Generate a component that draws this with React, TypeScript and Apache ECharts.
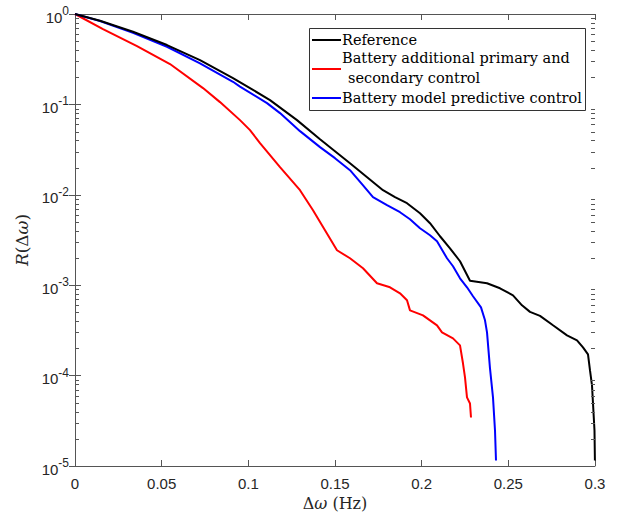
import React, { useEffect, useRef } from "react";
import * as echarts from "echarts";

const seriesNames = [
  "Reference",
  "Battery additional primary and secondary control",
  "Battery model predictive control",
];
const seriesColors = ["#000000", "#ff0000", "#0000ff"];

const xTickValues = [0, 0.05, 0.1, 0.15, 0.2, 0.25, 0.3];

const xRef = [0, 0.01442, 0.03346, 0.05308, 0.07212, 0.09115, 0.10096, 0.1125, 0.12808, 0.14135, 0.15865, 0.17769, 0.18462, 0.19154, 0.19904, 0.20481, 0.21058, 0.21635, 0.22212, 0.22788, 0.23769, 0.24519, 0.25269, 0.25788, 0.2625, 0.26827, 0.27577, 0.28385, 0.28962, 0.29308, 0.29596, 0.29712, 0.29827, 0.29885, 0.29971, 0.29995];
const yRef = [1, 0.843, 0.637, 0.4535, 0.3094, 0.1956, 0.1515, 0.1116, 0.067, 0.04126, 0.02238, 0.01124, 0.0094, 0.00807, 0.00625, 0.00485, 0.00348, 0.00256, 0.00184, 0.001119, 0.00105, 0.000924, 0.000773, 0.000599, 0.000507, 0.000458, 0.00036, 0.000279, 0.000245, 0.000205, 0.000172, 0.000114, 7.79e-5, 4.92e-5, 2.47e-5, 1.15e-5];

const xPsc = [0, 0.01615, 0.03577, 0.05481, 0.07385, 0.08365, 0.09519, 0.10096, 0.10673, 0.11827, 0.12981, 0.13731, 0.14423, 0.15115, 0.15865, 0.16615, 0.17423, 0.18173, 0.1875, 0.19154, 0.19327, 0.20077, 0.20885, 0.21173, 0.21808, 0.22212, 0.22385, 0.225, 0.22615, 0.22788, 0.22846];
const yPsc = [1, 0.682, 0.442, 0.2795, 0.1515, 0.106, 0.067, 0.0519, 0.03728, 0.0202, 0.01124, 0.00675, 0.004055, 0.002435, 0.001986, 0.001539, 0.00105, 0.000948, 0.000813, 0.000681, 0.000527, 0.000464, 0.00036, 0.000301, 0.000258, 0.000216, 0.000136, 9.55e-5, 5.74e-5, 4.92e-5, 3.44e-5];

const xMpc = [0, 0.01442, 0.03346, 0.05308, 0.07212, 0.09115, 0.09519, 0.11077, 0.11827, 0.12981, 0.14135, 0.15, 0.15865, 0.16558, 0.17192, 0.18, 0.1875, 0.19327, 0.19904, 0.20481, 0.20885, 0.21462, 0.21808, 0.22212, 0.22615, 0.22962, 0.23423, 0.23654, 0.2377, 0.23942, 0.24115, 0.24231, 0.24288];
const yMpc = [1, 0.8365, 0.6208, 0.4343, 0.2845, 0.1779, 0.1574, 0.1034, 0.0801, 0.0506, 0.03366, 0.02542, 0.01873, 0.0131, 0.0094, 0.00767, 0.00642, 0.00537, 0.00427, 0.00357, 0.00306, 0.001986, 0.00162, 0.001193, 0.000948, 0.000754, 0.000569, 0.000409, 0.000301, 0.00012, 5.74e-5, 2.47e-5, 1.15e-5];

const zip = (xs: number[], ys: number[]) => xs.map((x, i) => [x, ys[i]]);

const AXIS_COLOR = "#555555";
const LABEL_COLOR = "#262626";
const SERIF = "'DejaVu Serif', 'Liberation Serif', serif";
const SANS = "'Liberation Sans', Arial, Helvetica, sans-serif";
const LEGEND_FONT = `14.5px ${SERIF}`;

export default function App() {
  const ref = useRef<HTMLDivElement>(null);

  useEffect(() => {
    if (!ref.current) return;
    const chart = echarts.init(ref.current, undefined, { renderer: "svg" });

    const minorTicks: number[][] = [];
    for (let e = -5; e <= -1; e++) {
      for (let m = 2; m <= 9; m++) minorTicks.push([0, m * Math.pow(10, e)]);
    }

    const gridL = 75, gridR = 26, gridT = 14, gridB = 46;

    const commonY = {
      type: "log" as const,
      logBase: 10,
      min: 1e-5,
      max: 1,
      splitLine: { show: false },
      axisLine: { show: true, lineStyle: { color: AXIS_COLOR, width: 1 } },
      axisTick: { show: true, inside: true, length: 6, lineStyle: { color: AXIS_COLOR } },
    };
    const commonX = {
      type: "value" as const,
      min: 0,
      max: 0.3,
      interval: 0.05,
      splitLine: { show: false },
      axisLine: { show: true, onZero: false, lineStyle: { color: AXIS_COLOR, width: 1 } },
      axisTick: { show: true, inside: true, length: 6, lineStyle: { color: AXIS_COLOR } },
    };

    const legendX = 309, legendY = 28, legendW = 276, legendH = 82;
    const lineX1 = 312, lineX2 = 341, textX = 342;

    const xNameRich = {
      n: { fontFamily: SERIF, fontSize: 16, color: LABEL_COLOR },
      i: { fontFamily: SERIF, fontSize: 16, fontStyle: "italic", color: LABEL_COLOR },
    };
    const yNameRich = {
      n: { fontFamily: SERIF, fontSize: 17, color: LABEL_COLOR },
      i: { fontFamily: SERIF, fontSize: 17, fontStyle: "italic", color: LABEL_COLOR },
    };

    chart.setOption({
      animation: false,
      backgroundColor: "#ffffff",
      grid: {
        left: gridL,
        right: gridR,
        top: gridT,
        bottom: gridB,
        containLabel: false,
        outerBoundsMode: "none",
      },
      xAxis: [
        {
          ...commonX,
          position: "bottom",
          axisLabel: {
            show: true,
            margin: 10,
            fontSize: 15,
            fontFamily: SANS,
            color: LABEL_COLOR,
            formatter: (v: number) => {
              const m = xTickValues.find((t) => Math.abs(t - v) < 1e-9);
              return m === undefined ? "" : String(m);
            },
          },
          name: "{n|Δ}{i|ω}{n| (Hz)}",
          nameLocation: "middle",
          nameGap: 26,
          nameTextStyle: { fontFamily: SERIF, fontSize: 16, color: LABEL_COLOR, rich: xNameRich },
        },
        {
          ...commonX,
          position: "top",
          axisLabel: { show: false },
        },
      ],
      yAxis: [
        {
          ...commonY,
          position: "left",
          axisLabel: {
            show: true,
            margin: 6,
            color: LABEL_COLOR,
            formatter: (v: number) => `{b|10}{s|${Math.round(Math.log10(v))}}`,
            rich: {
              b: { fontSize: 15, fontFamily: SANS, color: LABEL_COLOR, padding: [6, 0, 0, 0] },
              s: { fontSize: 12, fontFamily: SANS, color: LABEL_COLOR, padding: [0, 0, 6, 0] },
            },
          },
          name: "{i|R}{n|(Δ}{i|ω}{n|)}",
          nameLocation: "middle",
          nameGap: 40,
          nameTextStyle: { fontFamily: SERIF, fontSize: 17, color: LABEL_COLOR, rich: yNameRich },
        },
        {
          ...commonY,
          position: "right",
          axisLabel: { show: false },
        },
      ],
      series: [
        {
          name: seriesNames[0],
          type: "line",
          data: zip(xRef, yRef),
          showSymbol: false,
          lineStyle: { color: seriesColors[0], width: 2 },
          itemStyle: { color: seriesColors[0] },
          z: 3,
        },
        {
          name: seriesNames[1],
          type: "line",
          data: zip(xPsc, yPsc),
          showSymbol: false,
          lineStyle: { color: seriesColors[1], width: 2 },
          itemStyle: { color: seriesColors[1] },
          z: 2,
        },
        {
          name: seriesNames[2],
          type: "line",
          data: zip(xMpc, yMpc),
          showSymbol: false,
          lineStyle: { color: seriesColors[2], width: 2 },
          itemStyle: { color: seriesColors[2] },
          z: 2,
        },
        {
          name: "minorTicks",
          type: "custom",
          silent: true,
          data: minorTicks,
          encode: { x: 0, y: 1 },
          clip: false,
          z: 5,
          renderItem: (params: any, api: any) => {
            const p = api.coord([0, api.value(1)]);
            const cs = params.coordSys;
            const y = Math.round(p[1]) + 0.5;
            return {
              type: "group",
              children: [
                {
                  type: "line",
                  shape: { x1: cs.x, y1: y, x2: cs.x + 4, y2: y },
                  style: { stroke: AXIS_COLOR, lineWidth: 1 },
                },
                {
                  type: "line",
                  shape: { x1: cs.x + cs.width, y1: y, x2: cs.x + cs.width - 4, y2: y },
                  style: { stroke: AXIS_COLOR, lineWidth: 1 },
                },
              ],
            };
          },
        },
      ],
      graphic: [
        {
          type: "group",
          z: 100,
          children: [
            {
              type: "rect",
              shape: { x: legendX + 0.5, y: legendY + 0.5, width: legendW, height: legendH },
              style: { fill: "#ffffff", stroke: "#333333", lineWidth: 1 },
            },
            {
              type: "line",
              shape: { x1: lineX1, y1: 40, x2: lineX2, y2: 40 },
              style: { stroke: seriesColors[0], lineWidth: 2 },
            },
            {
              type: "line",
              shape: { x1: lineX1, y1: 69, x2: lineX2, y2: 69 },
              style: { stroke: seriesColors[1], lineWidth: 2 },
            },
            {
              type: "line",
              shape: { x1: lineX1, y1: 98, x2: lineX2, y2: 98 },
              style: { stroke: seriesColors[2], lineWidth: 2 },
            },
            {
              type: "text",
              x: textX,
              y: 40,
              style: { text: seriesNames[0], font: LEGEND_FONT, fill: "#000", verticalAlign: "middle" },
            },
            {
              type: "text",
              x: textX,
              y: 58,
              style: { text: "Battery additional primary and", font: LEGEND_FONT, fill: "#000", verticalAlign: "middle" },
            },
            {
              type: "text",
              x: textX + 6,
              y: 78,
              style: { text: "secondary control", font: LEGEND_FONT, fill: "#000", verticalAlign: "middle" },
            },
            {
              type: "text",
              x: textX,
              y: 98,
              style: { text: seriesNames[2], font: LEGEND_FONT, fill: "#000", verticalAlign: "middle" },
            },
          ],
        },
      ],
    });

    return () => chart.dispose();
  }, []);

  return (
    <div
      ref={ref}
      style={{ position: "fixed", left: 0, top: 0, width: 621, height: 512, background: "#fff" }}
    />
  );
}
